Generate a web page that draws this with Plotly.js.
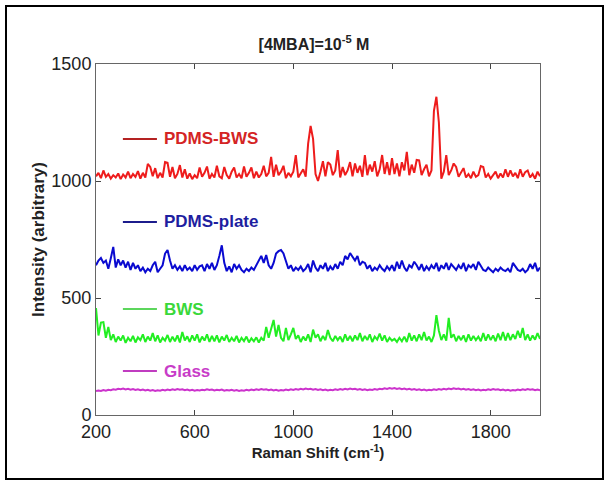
<!DOCTYPE html>
<html>
<head>
<meta charset="utf-8">
<script src="https://cdn.plot.ly/plotly-3.0.1.min.js"></script>
<style>html,body{margin:0;padding:0;background:#fff;}#chart{width:609px;height:484px;}</style>
</head>
<body>
<div id="chart"></div>
<script>
const ramanShift = [
200,210,220,230,240,250,260,270,280,290,
300,310,320,330,340,350,360,370,380,390,
400,410,420,430,440,450,460,470,480,490,
500,510,520,530,540,550,560,570,580,590,
600,610,620,630,640,650,660,670,680,690,
700,710,720,730,740,750,760,770,780,790,
800,810,820,830,840,850,860,870,880,890,
900,910,920,930,940,950,960,970,980,990,
1000,1010,1020,1030,1040,1050,1060,1070,1080,1090,
1100,1110,1120,1130,1140,1150,1160,1170,1180,1190,
1200,1210,1220,1230,1240,1250,1260,1270,1280,1290,
1300,1310,1320,1330,1340,1350,1360,1370,1380,1390,
1400,1410,1420,1430,1440,1450,1460,1470,1480,1490,
1500,1510,1520,1530,1540,1550,1560,1570,1580,1590,
1600,1610,1620,1630,1640,1650,1660,1670,1680,1690,
1700,1710,1720,1730,1740,1750,1760,1770,1780,1790,
1800,1810,1820,1830,1840,1850,1860,1870,1880,1890,
1900,1910,1920,1930,1940,1950,1960,1970,1980,1990,
2000];

const pdmsBws = [
1020,1035,1012,1045,1018,1030,1010,1025,1015,1032,
1008,1028,1015,1040,1012,1030,1018,1042,1010,1035,
1015,1073,1060,1020,1055,1012,1035,1015,1081,1078,
1018,1060,1012,1030,1068,1015,1050,1010,1032,1008,
1025,1012,1058,1018,1035,1062,1010,1030,1015,1065,
1020,1012,1060,1025,1010,1040,1058,1015,1030,1012,
1062,1018,1035,1058,1012,1040,1015,1030,1065,1020,
1035,1103,1018,1070,1025,1040,1065,1012,1035,1020,
1040,1111,1015,1035,1050,1018,1160,1235,1180,1030,
1000,1040,1085,1020,1080,1070,1025,1045,1132,1015,
1060,1025,1045,1081,1020,1075,1035,1065,1018,1111,
1025,1070,1040,1085,1020,1050,1111,1030,1080,1025,
1098,1030,1075,1020,1080,1045,1124,1025,1070,1035,
1090,1088,1025,1050,1070,1020,1045,1300,1360,1250,
1010,1040,1111,1025,1045,1075,1060,1018,1035,1055,
1015,1030,1012,1040,1018,1025,1064,1060,1015,1030,
1010,1028,1040,1012,1032,1015,1050,1018,1045,1020,
1035,1012,1050,1018,1038,1045,1015,1030,1010,1040,
1020];

const pdmsPlate = [
640,660,671,650,660,625,670,718,630,665,
640,660,630,655,620,650,625,640,615,630,
610,625,615,640,655,610,625,640,690,705,
660,625,640,620,635,615,640,620,630,615,
640,620,635,640,615,645,625,650,620,640,
680,725,650,615,635,610,645,625,640,620,
610,625,615,630,620,640,655,680,650,684,
640,625,650,690,700,705,690,655,625,640,
615,630,620,635,615,625,645,610,660,630,
615,640,625,650,615,635,620,645,625,655,
640,680,665,692,675,660,680,640,655,650,
625,640,615,630,620,640,625,615,635,620,
640,615,655,625,660,630,615,640,630,655,
640,620,645,615,635,620,640,625,650,615,
640,625,650,620,645,630,620,640,625,650,
615,640,630,645,620,655,635,620,615,630,
620,610,625,615,630,620,615,625,610,650,
635,620,615,625,610,620,645,625,650,615,
630];

const bws = [
457,340,395,397,330,376,320,345,312,335,
318,340,308,330,315,338,310,332,320,345,
312,335,318,350,315,340,310,330,318,342,
312,335,315,340,310,355,318,336,312,340,
318,345,310,335,318,345,312,338,315,340,
310,335,318,342,312,330,315,338,310,330,
316,335,310,328,315,332,310,330,318,376,
330,365,406,335,385,330,315,372,320,345,
372,325,340,312,335,318,345,312,365,330,
345,315,338,320,363,330,315,338,320,335,
312,345,318,338,315,340,320,350,315,338,
320,345,312,335,322,348,318,340,312,330,
318,325,312,330,315,335,312,350,318,340,
315,345,320,355,318,335,312,340,427,360,
320,345,318,415,330,345,315,338,320,340,
312,345,318,338,320,335,315,350,318,345,
320,340,315,348,320,355,318,350,320,345,
325,360,330,372,320,345,318,340,322,350,
325];

const glass = [
102,105,103,107,104,108,106,110,108,112,
110,113,109,112,108,111,107,110,106,109,
105,108,104,107,103,106,104,108,105,109,
106,110,107,111,108,110,106,109,105,108,
104,107,105,108,106,110,107,109,105,108,
106,109,104,107,105,108,104,107,103,106,
104,108,105,109,106,110,107,111,108,110,
106,109,105,108,104,107,105,109,106,110,
107,111,108,112,109,113,110,112,108,111,
107,110,106,109,105,108,106,110,107,111,
108,112,109,113,110,112,108,111,107,110,
106,109,107,111,108,112,110,114,111,115,
112,115,111,114,110,113,109,112,108,111,
107,110,106,109,105,108,106,110,107,111,
108,112,109,113,110,114,111,113,109,112,
108,111,107,110,106,109,105,108,106,110,
107,111,108,110,106,109,105,108,104,107,
105,109,106,110,107,111,108,110,106,109,
106];

const seriesNames = ["PDMS-BWS", "PDMS-plate", "BWS", "Glass"];
const lineColors = ["#ee1c1c", "#0a0ad0", "#22ee22", "#cc33cc"];
const keyLineColors = ["#b42222", "#1c1c8c", "#5cd65c", "#c03cc0"];
const labelColors = ["#d42424", "#1e1ea0", "#3ad83a", "#c83cc8"];
const labelY = [1180, 825, 453, 188];
const xTicks = [200, 600, 1000, 1400, 1800];
const yTicks = [0, 500, 1000, 1500];

const allY = [pdmsBws, pdmsPlate, bws, glass];
const traces = allY.map((ys, i) => ({
  x: ramanShift, y: ys, type: 'scatter', mode: 'lines',
  name: seriesNames[i],
  line: {color: lineColors[i], width: 2},
  showlegend: false, hoverinfo: 'skip'
}));

const shapes = [];
const annotations = [];
seriesNames.forEach((n, i) => {
  shapes.push({type: 'line', xref: 'x', yref: 'y', x0: 309, x1: 447, y0: labelY[i], y1: labelY[i],
    line: {color: keyLineColors[i], width: 2}});
  annotations.push({xref: 'x', yref: 'y', x: 468, y: labelY[i], xanchor: 'left', yanchor: 'middle',
    text: '<b>' + n + '</b>', showarrow: false,
    font: {family: 'Liberation Sans, Arial, sans-serif', size: 17, color: labelColors[i]}});
});
// outer frame of the figure
shapes.push({type: 'rect', xref: 'paper', yref: 'paper', x0: -0.2027, x1: 1.1419, y0: -0.1823, y1: 1.1652,
  line: {color: '#000', width: 2}, fillcolor: 'rgba(0,0,0,0)'});

const font = 'Liberation Sans, Arial, sans-serif';
const layout = {
  width: 609, height: 484,
  margin: {l: 96, r: 69, t: 64, b: 69},
  paper_bgcolor: '#fff', plot_bgcolor: '#fff',
  font: {family: font, color: '#222'},
  title: {text: '<b>[4MBA]=10<sup>-5</sup> M</b>', x: 314/609, xanchor: 'center',
    y: 1 - 44/484, yanchor: 'middle', yref: 'container', font: {family: font, size: 16, color: '#222'}},
  xaxis: {range: [200, 2000], tickvals: xTicks, ticktext: xTicks.map(String),
    ticks: 'inside', ticklen: 5, tickcolor: '#444', showline: true, linecolor: '#666', linewidth: 1,
    mirror: 'ticks', showgrid: false, zeroline: false, tickfont: {family: font, size: 18, color: '#222'},
    title: {text: '<b>Raman Shift (cm<sup>-1</sup>)</b>', font: {family: font, size: 15, color: '#222'}, standoff: 2}},
  yaxis: {range: [0, 1500], tickvals: yTicks, ticktext: yTicks.map(String),
    ticks: 'inside', ticklen: 5, tickcolor: '#444', showline: true, linecolor: '#666', linewidth: 1,
    mirror: 'ticks', showgrid: false, zeroline: false, tickfont: {family: font, size: 18, color: '#222'},
    title: {text: '<b>Intensity (arbitrary)</b>', font: {family: font, size: 17, color: '#222'}, standoff: 2}},
  shapes: shapes,
  annotations: annotations
};

Plotly.newPlot('chart', traces, layout, {staticPlot: true, displayModeBar: false});
</script>
</body>
</html>
